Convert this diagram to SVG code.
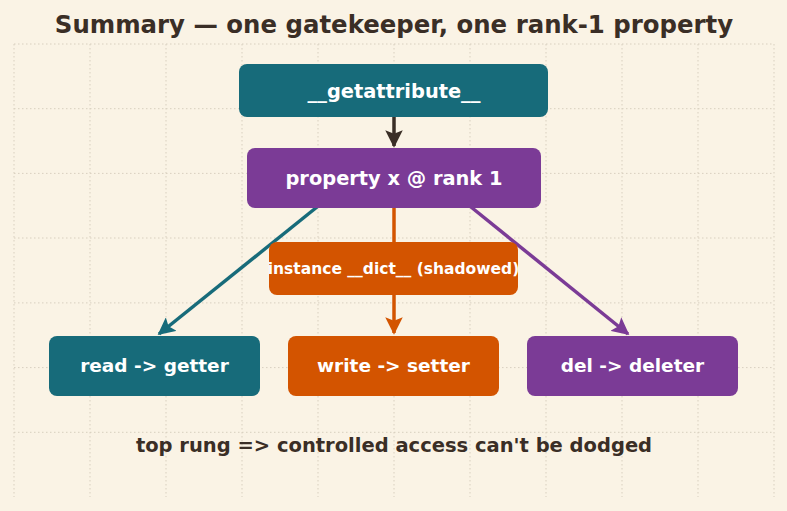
<svg xmlns="http://www.w3.org/2000/svg" width="787" height="511" viewBox="0 0 787 511">
<defs>
<style>
text{font-family:"DejaVu Sans",sans-serif;font-weight:bold;text-anchor:middle}
.lbl{fill:#ffffff;font-size:19.4px}
.sm{font-size:15.5px}
.leaf{font-size:18.5px}
.title{fill:#3a2e26;font-size:24.4px}
.foot{fill:#3a2e26;font-size:19.5px}
.grid line{stroke:#d8cfbf;stroke-width:1;stroke-dasharray:1.5 2.5}
.edge{fill:none;stroke-width:3.5}
</style>
<marker id="aDark" viewBox="0 0 10 10" refX="9" refY="5" markerWidth="5" markerHeight="5" orient="auto" markerUnits="strokeWidth"><path d="M0,0 L10,5 L0,10 L2,5 z" fill="#3a2e26"/></marker>
<marker id="aTeal" viewBox="0 0 10 10" refX="9" refY="5" markerWidth="5" markerHeight="5" orient="auto" markerUnits="strokeWidth"><path d="M0,0 L10,5 L0,10 L2,5 z" fill="#176b7a"/></marker>
<marker id="aOrange" viewBox="0 0 10 10" refX="9" refY="5" markerWidth="5" markerHeight="5" orient="auto" markerUnits="strokeWidth"><path d="M0,0 L10,5 L0,10 L2,5 z" fill="#d35400"/></marker>
<marker id="aPurple" viewBox="0 0 10 10" refX="9" refY="5" markerWidth="5" markerHeight="5" orient="auto" markerUnits="strokeWidth"><path d="M0,0 L10,5 L0,10 L2,5 z" fill="#7b3b96"/></marker>
</defs>
<rect width="787" height="511" fill="#faf3e5"/>
<g class="grid">
<line x1="14" y1="44" x2="14" y2="497"/><line x1="90" y1="44" x2="90" y2="497"/><line x1="166" y1="44" x2="166" y2="497"/><line x1="242" y1="44" x2="242" y2="497"/><line x1="318" y1="44" x2="318" y2="497"/><line x1="394" y1="44" x2="394" y2="497"/><line x1="470" y1="44" x2="470" y2="497"/><line x1="546" y1="44" x2="546" y2="497"/><line x1="622" y1="44" x2="622" y2="497"/><line x1="698" y1="44" x2="698" y2="497"/><line x1="774" y1="44" x2="774" y2="497"/>
<line x1="14" y1="44" x2="774" y2="44"/><line x1="14" y1="108.7" x2="774" y2="108.7"/><line x1="14" y1="173.4" x2="774" y2="173.4"/><line x1="14" y1="238" x2="774" y2="238"/><line x1="14" y1="302.9" x2="774" y2="302.9"/><line x1="14" y1="367.6" x2="774" y2="367.6"/><line x1="14" y1="432.3" x2="774" y2="432.3"/>
</g>
<text class="title" x="394" y="33">Summary — one gatekeeper, one rank-1 property</text>
<g id="connectors">
<line class="edge" x1="394" y1="117" x2="394" y2="146" stroke="#3a2e26" marker-end="url(#aDark)"/>
<line class="edge" x1="317" y1="207" x2="159" y2="334" stroke="#176b7a" marker-end="url(#aTeal)"/>
<line class="edge" x1="394" y1="208" x2="394" y2="333" stroke="#d35400" marker-end="url(#aOrange)"/>
<line class="edge" x1="471" y1="207" x2="628" y2="334" stroke="#7b3b96" marker-end="url(#aPurple)"/>
</g>
<g id="getattribute">
<rect x="239" y="64" width="309" height="53" rx="8" fill="#176b7a"/>
<text class="lbl" x="394" y="97.5">__getattribute__</text>
</g>
<g id="property">
<rect x="247" y="148" width="294" height="60" rx="8" fill="#7b3b96"/>
<text class="lbl" x="394" y="184.8">property x @ rank 1</text>
</g>
<g id="instance-dict">
<rect x="269" y="242" width="249" height="53" rx="8" fill="#d35400"/>
<text class="lbl sm" x="393.5" y="273.8">instance __dict__ (shadowed)</text>
</g>
<g id="read">
<rect x="49" y="336" width="211" height="60" rx="8" fill="#176b7a"/>
<text class="lbl leaf" x="154.5" y="372.3">read -&gt; getter</text>
</g>
<g id="write">
<rect x="288" y="336" width="211" height="60" rx="8" fill="#d35400"/>
<text class="lbl leaf" x="393.5" y="372.3">write -&gt; setter</text>
</g>
<g id="del">
<rect x="527" y="336" width="211" height="60" rx="8" fill="#7b3b96"/>
<text class="lbl leaf" x="632.5" y="372.3">del -&gt; deleter</text>
</g>
<text class="foot" x="394" y="452">top rung =&gt; controlled access can't be dodged</text>
</svg>
